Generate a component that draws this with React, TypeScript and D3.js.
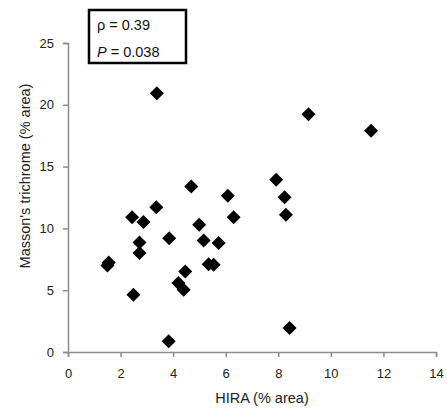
import React, { useEffect, useRef } from "react";
import * as d3 from "d3";

const hira = [
  3.38, 9.15, 11.53, 7.92, 8.24, 8.29, 4.69, 6.08, 6.3, 3.36, 2.44, 2.87, 4.99, 3.85,
  5.16, 5.73, 2.72, 2.72, 1.55, 1.5, 4.46, 4.2, 4.4, 2.49, 5.35, 5.54, 3.83, 8.43,
];
const masson = [
  20.94, 19.24, 17.9, 13.94, 12.53, 11.1, 13.39, 12.64, 10.91, 11.72, 10.91, 10.51, 10.29, 9.21,
  9.02, 8.81, 8.86, 8.0, 7.25, 7.0, 6.52, 5.58, 5.04, 4.63, 7.1, 7.06, 0.86, 1.94,
];
const xTicks = [0, 2, 4, 6, 8, 10, 12, 14];
const yTicks = [0, 5, 10, 15, 20, 25];

const App = () => {
  const svgRef = useRef<SVGSVGElement>(null);

  useEffect(() => {
    const w = 447;
    const h = 410;
    const svg = d3.select(svgRef.current).attr("width", w).attr("height", h);
    svg.selectAll("*").remove();
    const font = "'Liberation Sans', Arial, sans-serif";

    const x = d3.scaleLinear().domain([0, 14]).range([68, 436]);
    const y = d3.scaleLinear().domain([0, 25]).range([352, 43]);

    const xAxis = svg
      .append("g")
      .attr("transform", "translate(0,352)")
      .call(d3.axisBottom(x).tickValues(xTicks).tickSizeOuter(0).tickSize(5).tickPadding(12));
    const yAxis = svg
      .append("g")
      .attr("transform", "translate(68,0)")
      .call(d3.axisLeft(y).tickValues(yTicks).tickSizeOuter(0).tickSize(5).tickPadding(9));

    [xAxis, yAxis].forEach((g) => {
      g.select(".domain").attr("stroke", "#8c8c8c").attr("stroke-width", 1.5);
      g.selectAll(".tick line").attr("stroke", "#8c8c8c").attr("stroke-width", 1.5);
      g.selectAll(".tick text")
        .attr("fill", "#222")
        .style("font-family", font)
        .style("font-size", "13px");
    });

    svg
      .append("text")
      .attr("x", 262)
      .attr("y", 403)
      .attr("text-anchor", "middle")
      .attr("fill", "#222")
      .style("font-family", font)
      .style("font-size", "14.5px")
      .text("HIRA (% area)");

    svg
      .append("text")
      .attr("transform", "translate(30,176) rotate(-90)")
      .attr("text-anchor", "middle")
      .attr("fill", "#222")
      .style("font-family", font)
      .style("font-size", "14.5px")
      .text("Masson's trichrome (% area)");

    const pts = hira.map((v, i) => [v, masson[i]]);
    svg
      .append("g")
      .selectAll("path")
      .data(pts)
      .join("path")
      .attr("d", d3.symbol().type(d3.symbolSquare).size(98))
      .attr("transform", (d) => `translate(${x(d[0])},${y(d[1])}) rotate(45)`)
      .attr("fill", "#000");

    svg
      .append("rect")
      .attr("x", 89)
      .attr("y", 10)
      .attr("width", 97)
      .attr("height", 53)
      .attr("fill", "#fff")
      .attr("stroke", "#000")
      .attr("stroke-width", 2.5);

    const note = svg
      .append("g")
      .style("font-family", font)
      .style("font-size", "14.5px")
      .attr("fill", "#111");
    note.append("text").attr("x", 97).attr("y", 30).text("ρ = 0.39");
    const t2 = note.append("text").attr("x", 97).attr("y", 57);
    t2.append("tspan").style("font-style", "italic").text("P");
    t2.append("tspan").text(" = 0.038");
  }, []);

  return <svg ref={svgRef} style={{ position: "absolute", left: 0, top: 0 }}></svg>;
};

export default App;
